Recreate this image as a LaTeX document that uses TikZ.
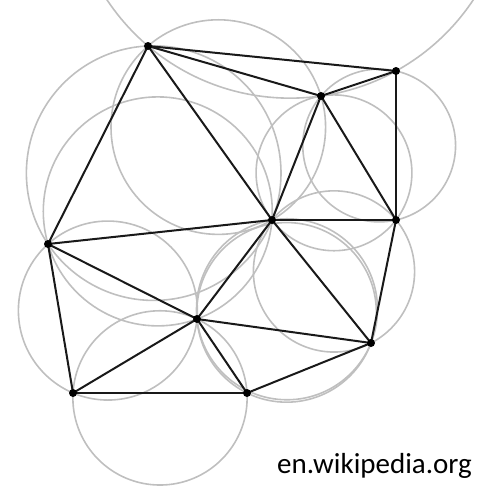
\documentclass[tikz,border=0pt]{standalone}
\usepackage{fontspec}
\setmainfont{Carlito}
\begin{document}
\begin{tikzpicture}[x=1pt,y=-1pt,
  circ/.style={draw=black!25, line width=1.6pt},
  edge/.style={draw=black!90, line width=2pt},
  dot/.style={circle, fill=black, inner sep=0pt, minimum size=8pt}]
\useasboundingbox (0,0) rectangle (487,488);
\coordinate (A) at (148,46);
\coordinate (B) at (396,71);
\coordinate (C) at (321,96);
\coordinate (D) at (272,220);
\coordinate (E) at (396,220);
\coordinate (F) at (48,244);
\coordinate (G) at (197,319);
\coordinate (H) at (371,343);
\coordinate (I) at (73,393);
\coordinate (J) at (247,393);
\begin{scope}
\clip (0,0) rectangle (487,488);
\draw[circ] (290.15,-121.55) circle[radius=219.7pt];
\draw[circ] (218.29,127.09) circle[radius=107.3pt];
\draw[circ] (379.17,145.5) circle[radius=76.4pt];
\draw[circ] (334,172.82) circle[radius=77.9pt];
\draw[circ] (153.69,173.13) circle[radius=127.3pt];
\draw[circ] (157.79,211.39) circle[radius=114.5pt];
\draw[circ] (107.88,310.55) circle[radius=89.5pt];
\draw[circ] (160,397.89) circle[radius=87.13pt];
\draw[circ] (286.57,312.37) circle[radius=89.8pt];
\draw[circ] (287,309.27) circle[radius=90.5pt];
\draw[circ] (334,271.44) circle[radius=80.6pt];
\end{scope}
\draw[edge] (A) -- (B);
\draw[edge] (A) -- (C);
\draw[edge] (C) -- (B);
\draw[edge] (B) -- (E);
\draw[edge] (C) -- (E);
\draw[edge] (C) -- (D);
\draw[edge] (D) -- (E);
\draw[edge] (A) -- (D);
\draw[edge] (A) -- (F);
\draw[edge] (F) -- (D);
\draw[edge] (F) -- (G);
\draw[edge] (F) -- (I);
\draw[edge] (I) -- (G);
\draw[edge] (I) -- (J);
\draw[edge] (G) -- (J);
\draw[edge] (G) -- (D);
\draw[edge] (D) -- (H);
\draw[edge] (G) -- (H);
\draw[edge] (H) -- (J);
\draw[edge] (E) -- (H);
\foreach \p in {A,B,C,D,E,F,G,H,I,J} \node[dot] (d\p) at (\p) {};
\node[anchor=base west, inner sep=0pt, font=\fontsize{29}{34}\selectfont] (lbl) at (277,473) {en.wikipedia.org};
\end{tikzpicture}
\end{document}
